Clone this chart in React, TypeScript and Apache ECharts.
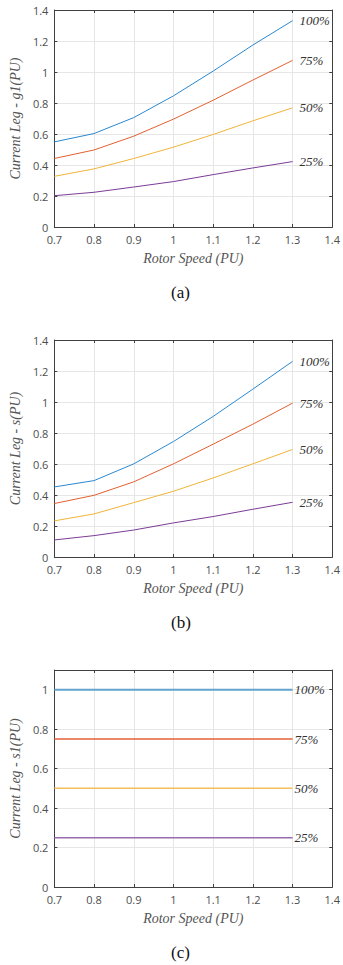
import React, { useEffect, useRef } from "react";
import * as echarts from "echarts";

const speeds = [0.7, 0.8, 0.9, 1.0, 1.1, 1.2, 1.3];
const loadLabels = ["100%", "75%", "50%", "25%"];

// (a) Current Leg - g1
const g1_100 = [0.549, 0.603, 0.706, 0.846, 1.006, 1.174, 1.331];
const g1_75 = [0.442, 0.497, 0.586, 0.696, 0.818, 0.948, 1.075];
const g1_50 = [0.327, 0.375, 0.442, 0.515, 0.597, 0.685, 0.769];
const g1_25 = [0.202, 0.224, 0.258, 0.293, 0.338, 0.381, 0.422];

// (b) Current Leg - s
const s_100 = [0.452, 0.493, 0.601, 0.745, 0.907, 1.083, 1.262];
const s_75 = [0.345, 0.398, 0.485, 0.601, 0.728, 0.857, 0.993];
const s_50 = [0.233, 0.278, 0.351, 0.424, 0.51, 0.601, 0.694];
const s_25 = [0.11, 0.138, 0.174, 0.22, 0.261, 0.308, 0.353];

// (c) Current Leg - s1
const s1_100 = [1, 1, 1, 1, 1, 1, 1];
const s1_75 = [0.75, 0.75, 0.75, 0.75, 0.75, 0.75, 0.75];
const s1_50 = [0.5, 0.5, 0.5, 0.5, 0.5, 0.5, 0.5];
const s1_25 = [0.25, 0.25, 0.25, 0.25, 0.25, 0.25, 0.25];

const xTicks = { min: 0.7, max: 1.4, interval: 0.1 };
const yNames = ["Current Leg - g1(PU)", "Current Leg - s(PU)", "Current Leg - s1(PU)"];
const captions = ["(a)", "(b)", "(c)"];
const yMaxes = [1.4, 1.4, 1.1];

const panelData = [
  [g1_100, g1_75, g1_50, g1_25],
  [s_100, s_75, s_50, s_25],
  [s1_100, s1_75, s1_50, s1_25],
];

const colorsAB = ["#2a88cf", "#e2602f", "#f0b43a", "#7b3c96"];
const colorsC = ["#62a4cf", "#e6623a", "#f4c05e", "#9a6ab0"];

const serif = "Liberation Serif";
const sans = "Open Sans";
const AX = "#404040";

export default function App() {
  const ref = useRef<HTMLDivElement>(null);
  useEffect(() => {
    document.body.style.margin = "0";
    if (!ref.current) return;
    const chart = echarts.init(ref.current, null, { renderer: "svg" });

    const tops = [10, 340, 670];
    const grids: any[] = [];
    const xAxes: any[] = [];
    const yAxes: any[] = [];
    const series: any[] = [];
    const graphics: any[] = [];

    tops.forEach((top, p) => {
      grids.push({ left: 50, width: 287, top, height: 217, containLabel: false });
      const tickInside = { show: true, inside: true, length: 3, lineStyle: { color: AX } };
      xAxes.push({
        type: "value",
        gridIndex: p,
        position: "bottom",
        ...xTicks,
        name: "Rotor Speed (PU)",
        nameLocation: "middle",
        nameGap: 24,
        nameTextStyle: { fontFamily: serif, fontStyle: "italic", fontSize: 14, color: "#555" },
        axisLine: { show: true, onZero: false, lineStyle: { color: AX, width: 1 } },
        axisTick: tickInside,
        axisLabel: { fontFamily: sans, fontSize: 11, color: "#4d4d4d", margin: 7 },
        splitLine: { show: true, lineStyle: { color: "#e6e6e6", width: 1 } },
      });
      xAxes.push({
        type: "value",
        gridIndex: p,
        position: "top",
        ...xTicks,
        axisLine: { show: true, onZero: false, lineStyle: { color: AX, width: 1 } },
        axisTick: tickInside,
        axisLabel: { show: false },
        splitLine: { show: false },
      });
      const yFmt = (v: number) => {
        const k = v * 5;
        return Math.abs(k - Math.round(k)) < 1e-6 ? String(Math.round(v * 10) / 10) : "";
      };
      yAxes.push({
        type: "value",
        gridIndex: p,
        position: "left",
        min: 0,
        max: yMaxes[p],
        interval: 0.2,
        name: yNames[p],
        nameLocation: "middle",
        nameGap: 29,
        nameTextStyle: { fontFamily: serif, fontStyle: "italic", fontSize: 14, color: "#555" },
        axisLine: { show: true, onZero: false, lineStyle: { color: AX, width: 1 } },
        axisTick: tickInside,
        axisLabel: { fontFamily: sans, fontSize: 11, color: "#4d4d4d", margin: 6, formatter: yFmt },
        splitLine: { show: true, lineStyle: { color: "#e6e6e6", width: 1 } },
      });
      yAxes.push({
        type: "value",
        gridIndex: p,
        position: "right",
        min: 0,
        max: yMaxes[p],
        interval: 0.2,
        axisLine: { show: true, onZero: false, lineStyle: { color: AX, width: 1 } },
        axisTick: tickInside,
        axisLabel: { show: false },
        splitLine: { show: false },
      });

      const cols = p === 2 ? colorsC : colorsAB;
      panelData[p].forEach((vals, i) => {
        series.push({
          type: "line",
          name: `${captions[p]} ${loadLabels[i]}`,
          xAxisIndex: p * 2,
          yAxisIndex: p * 2,
          data: speeds.map((s, j) => [s, vals[j]]),
          showSymbol: false,
          symbol: "none",
          lineStyle: { color: cols[i], width: p === 2 ? (i === 0 ? 2 : 1.5) : 1 },
          itemStyle: { color: cols[i] },
          endLabel: {
            show: true,
            formatter: () => loadLabels[i],
            distance: p === 2 ? 2 : 7,
            fontFamily: serif,
            fontStyle: "italic",
            fontSize: 13,
            color: "#333",
          },
          silent: true,
        });
      });

      graphics.push({
        type: "text",
        left: 171,
        top: top + 274,
        style: { text: captions[p], fontFamily: serif, fontSize: 17, fill: "#111" },
      });
    });

    chart.setOption({
      animation: false,
      backgroundColor: "#fff",
      grid: grids,
      xAxis: xAxes,
      yAxis: yAxes,
      series,
      graphic: graphics,
    });
    return () => chart.dispose();
  }, []);
  return <div ref={ref} style={{ width: 343, height: 965 }} />;
}
